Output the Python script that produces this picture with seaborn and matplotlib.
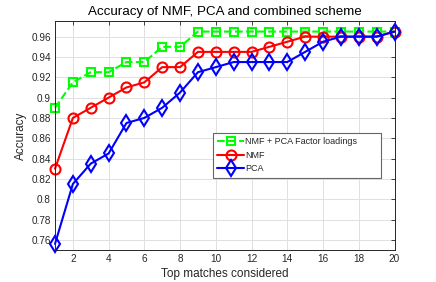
import matplotlib
matplotlib.use("Agg")
import matplotlib.pyplot as plt
import seaborn as sns
import numpy as np
import pandas as pd
from matplotlib.ticker import FuncFormatter

top_matches = list(range(1, 21))
combined = [0.89, 0.915, 0.925, 0.925, 0.935, 0.935, 0.95, 0.95, 0.965, 0.965,
            0.965, 0.965, 0.965, 0.965, 0.965, 0.965, 0.965, 0.965, 0.965, 0.965]
nmf = [0.83, 0.88, 0.89, 0.90, 0.91, 0.915, 0.93, 0.93, 0.945, 0.945,
       0.945, 0.945, 0.95, 0.955, 0.96, 0.96, 0.96, 0.96, 0.96, 0.965]
pca = [0.756, 0.815, 0.835, 0.845, 0.875, 0.88, 0.89, 0.905, 0.925, 0.93,
       0.935, 0.935, 0.935, 0.935, 0.945, 0.955, 0.96, 0.96, 0.96, 0.965]
labels = ["NMF + PCA Factor loadings", "NMF", "PCA"]
xticks = [2, 4, 6, 8, 10, 12, 14, 16, 18, 20]
yticks = [0.76, 0.78, 0.80, 0.82, 0.84, 0.86, 0.88, 0.90, 0.92, 0.94, 0.96]

sns.set_style("white")
plt.rcParams['font.family'] = ['Liberation Sans', 'DejaVu Sans']

fig = plt.figure(figsize=(4.36, 2.82), dpi=100)
ax = fig.add_axes([55/436, 32/282, 339.5/436, 229.3/282])

dark = (0.15, 0.15, 0.15)
series = [
    (combined, labels[0], (0, 1, 0), 's', '--', 6.3),
    (nmf, labels[1], (1, 0, 0), 'o', '-', 7.2),
    (pca, labels[2], (0, 0, 1), 'd', '-', 8),
]
for vals, lab, col, mk, ls, ms in series:
    sns.lineplot(x=top_matches, y=vals, ax=ax, color=col, marker=mk, linestyle=ls,
                 linewidth=1.5, markersize=ms, markerfacecolor='none',
                 markeredgecolor=col, markeredgewidth=1.5, label=lab, clip_on=False)

ax.set_xlim(1, 20)
ax.set_ylim(0.75, 0.9757)
ax.set_xticks(xticks)
ax.set_yticks(yticks)
ax.yaxis.set_major_formatter(FuncFormatter(lambda v, p: ("%.2f" % v).rstrip('0').rstrip('.')))
ax.grid(True, color=(0.88, 0.88, 0.88), linewidth=0.7)
ax.tick_params(axis='both', direction='in', length=3, width=0.6, colors=dark,
               labelsize=7.2, top=True, right=True, pad=3)
for s in ax.spines.values():
    s.set_color(dark)
    s.set_linewidth(0.7)
ax.set_title("Accuracy of NMF, PCA and combined scheme", fontsize=9.6, color='black', pad=4)
ax.set_xlabel("Top matches considered", fontsize=8.5, color=dark, labelpad=3)
ax.set_ylabel("Accuracy", fontsize=8.5, color=dark, labelpad=3)

leg = ax.legend(loc='lower left', bbox_to_anchor=(0.465, 0.314, 0.495, 0.2),
                mode='expand', borderaxespad=0,
                fontsize=6.5, handlelength=3.0, fancybox=False, framealpha=1,
                edgecolor=(0.4, 0.4, 0.4), borderpad=0.5, labelspacing=0.5,
                handletextpad=0.1)
leg.get_frame().set_linewidth(0.8)

fig.savefig("out.png", dpi=100)
